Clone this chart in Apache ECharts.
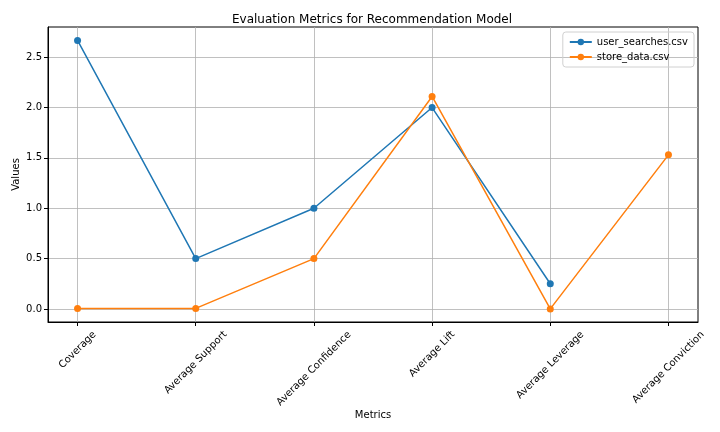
<!DOCTYPE html>
<html>
<head>
<meta charset="utf-8">
<script src="https://cdn.jsdelivr.net/npm/echarts@6/dist/echarts.min.js"></script>
<style>
html, body { margin: 0; padding: 0; background: #fff; }
#chart { width: 720px; height: 432px; }
</style>
</head>
<body>
<div id="chart"></div>
<script>
let chart = document.getElementById('chart');

var metrics = ['Coverage', 'Average Support', 'Average Confidence', 'Average Lift', 'Average Leverage', 'Average Conviction'];
var userSearches = [2.667, 0.5, 1.0, 2.0, 0.25, null];
var storeData = [0.005, 0.005, 0.5, 2.11, 0.0, 1.53];
var xTicks = [0, 1, 2, 3, 4, 5];
var yTicks = [0, 0.5, 1.0, 1.5, 2.0, 2.5];

function pairs(arr) {
    return arr.map(function (v, i) { return [i, v]; });
}

var font = 'DejaVu Sans';

// centre each rotated label under its tick, the way matplotlib does
var ctx = document.createElement('canvas').getContext('2d');
ctx.font = '10px "DejaVu Sans"';
var rich = {};
metrics.forEach(function (m, i) {
    var w = ctx.measureText(m).width;
    rich['l' + i] = {
        fontFamily: font,
        fontSize: 10,
        color: '#000',
        padding: [w / 2, w / 2, 0, 0]
    };
});

option = {
    animation: false,
    textStyle: { fontFamily: font },
    title: {
        text: 'Evaluation Metrics for Recommendation Model',
        left: 367,
        textAlign: 'center',
        top: 9,
        textStyle: { fontFamily: font, fontSize: 12, fontWeight: 'normal', color: '#000' }
    },
    legend: {
        right: 26,
        top: 32,
        orient: 'vertical',
        itemWidth: 22,
        itemHeight: 8,
        itemGap: 5,
        padding: [5, 6, 5, 6],
        borderColor: '#d0d0d0',
        borderWidth: 1,
        borderRadius: 3,
        textStyle: { fontFamily: font, fontSize: 10, color: '#000' },
        data: ['user_searches.csv', 'store_data.csv']
    },
    grid: {
        left: 48,
        right: 22,
        top: 27,
        bottom: 110,
        show: true,
        borderColor: '#000',
        borderWidth: 1,
        containLabel: false,
        outerBoundsMode: 'none'
    },
    xAxis: {
        type: 'value',
        min: -0.25,
        max: 5.25,
        name: 'Metrics',
        nameLocation: 'middle',
        nameGap: 88,
        nameMoveOverlap: false,
        nameTextStyle: { fontFamily: font, fontSize: 10, color: '#000' },
        axisLine: { show: true, onZero: false, lineStyle: { color: '#000', width: 1 } },
        axisTick: { show: true, customValues: xTicks, length: 4, lineStyle: { color: '#000' } },
        axisLabel: {
            customValues: xTicks,
            rotate: 45,
            align: 'center',
            verticalAlign: 'middle',
            margin: 11,
            hideOverlap: false,
            formatter: function (v) {
                var i = Math.round(v);
                return '{l' + i + '|' + metrics[i] + '}';
            },
            rich: rich
        },
        splitLine: { show: true, lineStyle: { color: '#b0b0b0', width: 0.8 } }
    },
    yAxis: {
        type: 'value',
        min: -0.13,
        max: 2.8,
        name: 'Values',
        nameLocation: 'middle',
        nameGap: 27,
        nameMoveOverlap: false,
        nameTextStyle: { fontFamily: font, fontSize: 10, color: '#000' },
        axisLine: { show: true, onZero: false, lineStyle: { color: '#000', width: 1 } },
        axisTick: { show: true, customValues: yTicks, length: 4, lineStyle: { color: '#000' } },
        axisLabel: {
            customValues: yTicks,
            fontFamily: font,
            fontSize: 10,
            color: '#000',
            margin: 6,
            formatter: function (v) { return v.toFixed(1); }
        },
        splitLine: { show: true, lineStyle: { color: '#b0b0b0', width: 0.8 } }
    },
    series: [
        {
            name: 'user_searches.csv',
            type: 'line',
            symbol: 'circle',
            symbolSize: 7,
            connectNulls: false,
            itemStyle: { color: '#1f77b4' },
            lineStyle: { width: 1.5 },
            data: pairs(userSearches)
        },
        {
            name: 'store_data.csv',
            type: 'line',
            symbol: 'circle',
            symbolSize: 7,
            itemStyle: { color: '#ff7f0e' },
            lineStyle: { width: 1.5 },
            data: pairs(storeData)
        }
    ]
};

echarts.init(chart).setOption(option, true);
</script>
</body>
</html>
